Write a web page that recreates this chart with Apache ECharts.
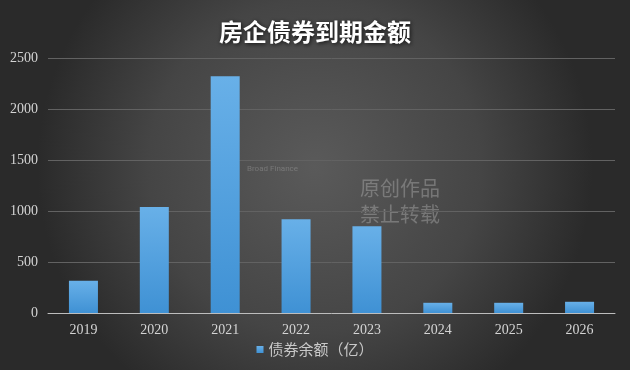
<!DOCTYPE html>
<html><head><meta charset="utf-8">
<script src="https://cdn.jsdelivr.net/npm/echarts@6/dist/echarts.min.js"></script>
<style>html,body{margin:0;padding:0;background:#333}#c{width:630px;height:370px}</style>
</head><body><div id="c"></div>
<script>
const categories = ['2019','2020','2021','2022','2023','2024','2025','2026'];
const values = [315, 1040, 2320, 920, 850, 100, 100, 110];
const yTicks = [0, 500, 1000, 1500, 2000, 2500];
const seriesName = '债券余额（亿）';
const titleText = '房企债券到期金额';

const chart = echarts.init(document.getElementById('c'));
chart.setOption({
  backgroundColor: {type:'radial', x:0.5, y:0.45, r:0.75,
    colorStops:[{offset:0,color:'#5a5a5a'},{offset:0.6,color:'#454545'},{offset:1,color:'#2a2a2a'}]},
  animation:false,
  title:{text:titleText, left:'center', top:15,
    textStyle:{color:'#ffffff', fontSize:24, fontWeight:'bold', fontFamily:'Noto Sans CJK SC',
      textShadowColor:'rgba(0,0,0,0.8)', textShadowBlur:4, textShadowOffsetX:1, textShadowOffsetY:1}},
  legend:{bottom:8, left:'center', itemWidth:7, itemHeight:7, icon:'rect', itemGap:4,
    textStyle:{color:'#c8c8c8', fontSize:15, fontFamily:'Noto Sans CJK SC'}},
  grid:{left:48, right:15, top:58, bottom:57},
  graphic:[
    {type:'text', left:360, top:178, style:{text:'原创作品', fill:'rgba(200,200,200,0.35)', fontSize:20, fontFamily:'Noto Sans CJK SC'}},
    {type:'text', left:360, top:204, style:{text:'禁止转载', fill:'rgba(200,200,200,0.35)', fontSize:20, fontFamily:'Noto Sans CJK SC'}},
    {type:'text', left:247, top:165, style:{text:'Broad Finance', fill:'rgba(200,200,200,0.3)', fontSize:8, fontFamily:'Roboto'}}
  ],
  xAxis:{type:'category', data:categories,
    axisLine:{lineStyle:{color:'#bdbdbd', width:1}}, axisTick:{show:false},
    axisLabel:{color:'#d4d4d4', fontSize:14, fontFamily:'Liberation Serif', margin:10}},
  yAxis:{type:'value', min:yTicks[0], max:yTicks[yTicks.length-1], interval:500,
    axisLine:{show:false}, axisTick:{show:false},
    splitLine:{lineStyle:{color:'#626262', width:1}},
    axisLabel:{color:'#d4d4d4', fontSize:14, fontFamily:'Liberation Serif', margin:10,
      formatter: v => String(v)}},
  series:[{name:seriesName, type:'bar', data:values, barWidth:29,
    itemStyle:{color:{type:'linear',x:0,y:0,x2:0,y2:1,
      colorStops:[{offset:0,color:'#68b0e8'},{offset:1,color:'#3f91d4'}]}}}]
});
</script></body></html>
